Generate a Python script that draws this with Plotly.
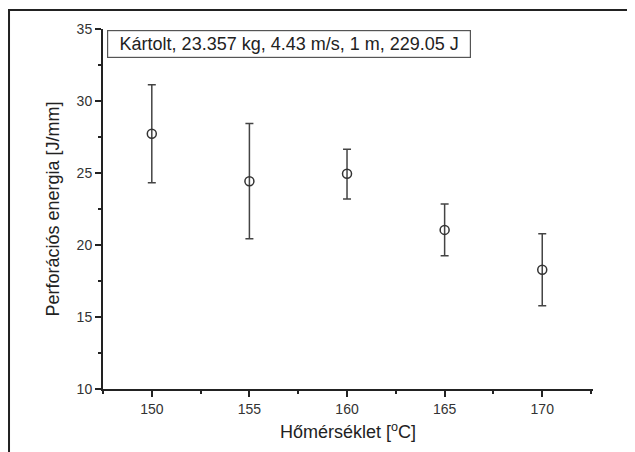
import plotly.graph_objects as go

temps = [150, 155, 160, 165, 170]
energy = [27.73, 24.43, 24.95, 21.05, 18.28]
err_up = [3.4, 4.0, 1.7, 1.8, 2.5]
err_down = [3.4, 4.0, 1.75, 1.8, 2.5]

x_ticks = [150, 155, 160, 165, 170]
y_ticks = [10, 15, 20, 25, 30, 35]

font_family = "Liberation Sans, Arial, sans-serif"

fig = go.Figure()
fig.add_trace(go.Scatter(
    x=temps, y=energy, mode="markers",
    marker=dict(symbol="circle-open", size=9, color="#333333", line=dict(width=1.5, color="#333333")),
    error_y=dict(type="data", symmetric=False, array=err_up, arrayminus=err_down,
                 color="#444444", thickness=1.5, width=4),
    showlegend=False,
))

fig.update_layout(
    width=627, height=444,
    margin=dict(l=95, r=42, t=21, b=63),
    paper_bgcolor="white", plot_bgcolor="white",
    font=dict(family=font_family, color="#222222"),
    xaxis=dict(
        range=[147.5, 172.6], tickvals=x_ticks, ticks="outside", ticklen=6, tickwidth=1.5,
        tickcolor="#222", showline=True, linecolor="#222", linewidth=2, showgrid=False,
        zeroline=False, tickfont=dict(size=14, color="#333"),
        minor=dict(dtick=2.5, tick0=147.5, ticks="outside", ticklen=3, tickcolor="#222"),
        title=dict(text="Hőmérséklet [<sup>o</sup>C]", font=dict(size=18, color="#222"), standoff=10),
    ),
    yaxis=dict(
        range=[10, 35], tickvals=y_ticks, ticks="outside", ticklen=6, tickwidth=1.5,
        tickcolor="#222", showline=True, linecolor="#222", linewidth=2, showgrid=False,
        zeroline=False, tickfont=dict(size=14, color="#333"),
        minor=dict(dtick=2.5, tick0=10, ticks="outside", ticklen=3, tickcolor="#222"),
        title=dict(text="Perforációs energia [J/mm]", font=dict(size=18, color="#222"), standoff=12),
    ),
    annotations=[dict(
        x=0.0076, y=0.997, xref="paper", yref="paper", xanchor="left", yanchor="top",
        text="Kártolt, 23.357 kg, 4.43 m/s, 1 m, 229.05 J", showarrow=False,
        font=dict(size=18, color="#222"), bordercolor="#555", borderwidth=1.2,
        borderpad=3, bgcolor="white", width=356, height=20, align="center",
    )],
    shapes=[dict(
        type="rect", xref="paper", yref="paper", x0=-0.1918, x1=1.0776, y0=-0.2, y1=1.0528,
        line=dict(color="#222", width=2), fillcolor="rgba(0,0,0,0)", layer="below",
    )],
)

fig.write_html("out.html")
